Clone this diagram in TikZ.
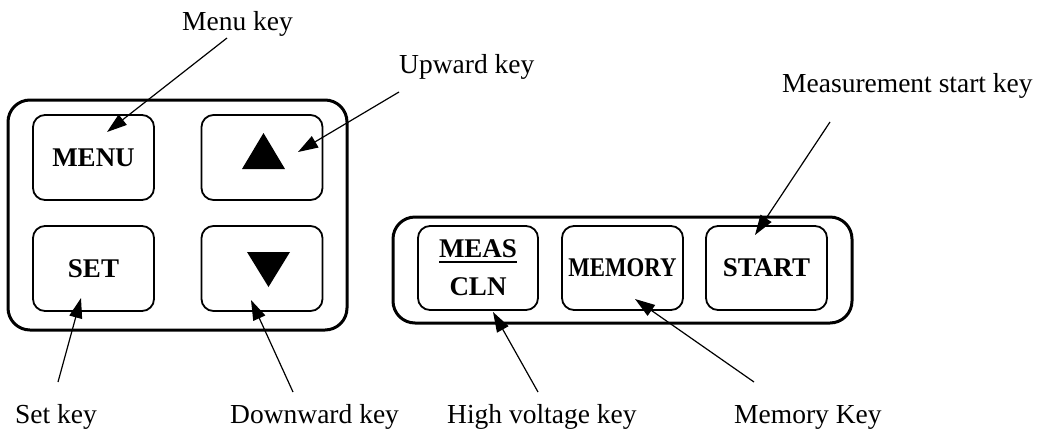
\documentclass[tikz,border=0pt]{standalone}
\usepackage{fontspec}
\setmainfont{Liberation Serif}
\usetikzlibrary{arrows.meta}
\newcommand{\measbar}[1]{\vtop{\hbox{#1}\kern3pt\hrule height 2pt}}

\begin{document}
\begin{tikzpicture}[x=1pt,y=-1pt,
    panel/.style={draw,line width=3pt,rounded corners=22pt,inner sep=0pt},
    keybox/.style={draw,line width=1.8pt,rounded corners=12pt,minimum width=121pt,
      minimum height=85pt,inner sep=0pt,align=center,
      font=\bfseries\fontsize{27}{38}\selectfont},
    keylabel/.style={anchor=base west,inner sep=0pt,font=\fontsize{27.5}{33}\selectfont},
    pointer/.style={line width=1.2pt,-{Triangle[length=20pt,width=13pt]}}]
  \useasboundingbox (0,0) rectangle (1044,432);
  \node[panel,minimum width=339pt,minimum height=230pt] (left) at (177.5,215) {};
  \node[panel,minimum width=459pt,minimum height=106pt] (right) at (622.5,270) {};
  \node[keybox] (menu) at (93.5,157.5) {MENU};
  \node[keybox] (up) at (262,157.5) {};
  \node[keybox] (set) at (93.5,268.5) {SET};
  \node[keybox] (down) at (262,268.5) {};
  \node[keybox,minimum width=120pt,minimum height=84pt] (meas) at (478,268) {\measbar{MEAS}\\CLN};
  \node[keybox,minimum height=84pt] (memory) at (622.5,268) {\scalebox{0.845}[1]{MEMORY}};
  \node[keybox,minimum height=84pt] (start) at (766.5,268) {START};
  \fill ([shift={(-20,11.5)}]up.center) -- ([shift={(23,11.5)}]up.center)
    -- ([shift={(1.5,-24.5)}]up.center) -- cycle;
  \fill ([shift={(-15,-16.5)}]down.center) -- ([shift={(28,-16.5)}]down.center)
    -- ([shift={(6.5,18.5)}]down.center) -- cycle;
  \node[keylabel] (menulbl) at (182,30) {Menu key};
  \node[keylabel] (uplbl) at (399,73) {Upward key};
  \node[keylabel] (startlbl) at (782,92) {Measurement start key};
  \node[keylabel] (setlbl) at (15,423) {Set key};
  \node[keylabel] (downlbl) at (230,423) {Downward key};
  \node[keylabel] (measlbl) at (447,423) {High voltage key};
  \node[keylabel] (memorylbl) at (734,423) {Memory Key};
  \coordinate (menutail) at (227,38);
  \coordinate (uptail) at (399,92);
  \coordinate (starttail) at (830,122);
  \coordinate (settail) at (58,382);
  \coordinate (downtail) at (293,392);
  \coordinate (meastail) at (538,392);
  \coordinate (memorytail) at (754,382);
  \begin{scope}[pointer]
    \draw (menutail) to ([shift={(13.5,-25.5)}]menu.center);
    \draw (uptail) to ([shift={(36,-5.5)}]up.center);
    \draw (settail) to ([shift={(-12.5,29.5)}]set.center);
    \draw (downtail) to ([shift={(-11,31.5)}]down.center);
    \draw (meastail) to ([shift={(15,44)}]meas.center);
    \draw (memorytail) to ([shift={(12.5,31)}]memory.center);
    \draw (starttail) to ([shift={(-11.5,-33)}]start.center);
  \end{scope}
\end{tikzpicture}
\end{document}
